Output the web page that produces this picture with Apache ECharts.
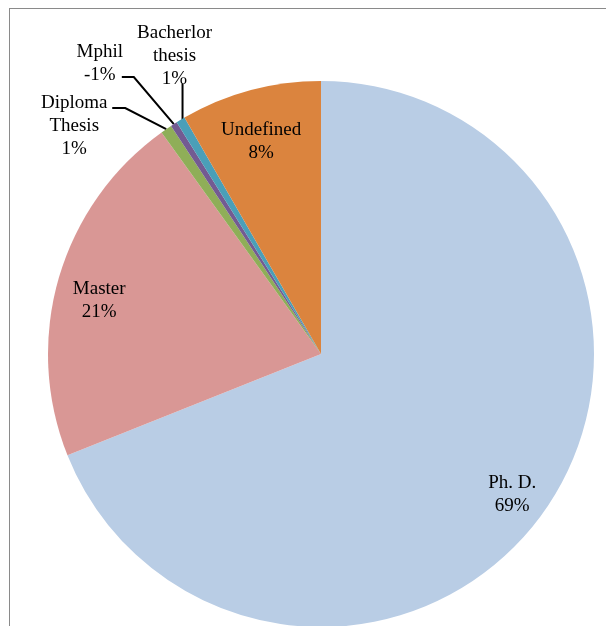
<!DOCTYPE html>
<html>
<head>
<meta charset="utf-8">
<script src="https://cdn.jsdelivr.net/npm/echarts@6/dist/echarts.min.js"></script>
<style>
  html, body { margin: 0; padding: 0; background: #fff; }
  #wrap { position: relative; width: 606px; height: 626px; overflow: hidden; }
  #chart { position: absolute; left: 0; top: 0; width: 606px; height: 626px; }
  #frame { position: absolute; left: 9px; top: 8px; width: 700px; height: 700px;
           border-top: 1.5px solid #8a8a8a; border-left: 1.5px solid #8a8a8a; pointer-events: none; }
</style>
</head>
<body>
<div id="wrap"><div id="frame"></div><div id="chart"></div></div>
<script>
var categories = ['Ph. D.', 'Master', 'Diploma\nThesis', 'Mphil', 'Bacherlor\nthesis', 'Undefined'];
var values = [68.9, 21.1, 0.67, 0.39, 0.53, 8.33];
var percentLabels = ['69%', '21%', '1%', '-1%', '1%', '8%'];
var colors = ['#B9CDE5', '#D99795', '#8FAE58', '#735B92', '#4A9FB8', '#DB843E'];
var insideLabel = [true, true, false, false, false, true];

// outside label placement relative to the slice edge point (leader elbow, leader end, label centre)
var outsideOffsets = {
  2: { elbow: [-41, -21], end: [-54, -21], text: [-92, -3] },
  3: { elbow: [-40, -47], end: [-52, -47], text: [-74, -61] },
  4: { elbow: [2, -18], end: [2, -36], text: [-6, -64], start: [2, 0] }
};

var CX = 321, CY = 354, R = 273;
var font = { fontFamily: 'Liberation Serif', fontSize: 19, lineHeight: 23, color: '#000' };

var chart = echarts.init(document.getElementById('chart'), null, { renderer: 'canvas' });

var mainData = categories.map(function (c, i) {
  return {
    name: c, value: values[i],
    itemStyle: { color: colors[i] },
    label: { show: !insideLabel[i] },
    labelLine: { show: !insideLabel[i] }
  };
});
var ringData = categories.map(function (c, i) {
  return {
    name: c, value: values[i],
    itemStyle: { color: 'rgba(0,0,0,0)' },
    label: { show: insideLabel[i] }
  };
});

function textFor(p) { return p.name + '\n' + percentLabels[p.dataIndex]; }

chart.setOption({
  animation: false,
  series: [
    {
      type: 'pie',
      center: [CX, CY],
      radius: [0, R],
      startAngle: 90,
      clockwise: true,
      avoidLabelOverlap: false,
      silent: true,
      itemStyle: { borderWidth: 0 },
      data: mainData,
      label: Object.assign({ position: 'outside', formatter: textFor, align: 'center', rotate: 0 }, font),
      labelLine: { show: true, length: 20, length2: 10, smooth: false, lineStyle: { color: '#000', width: 2 } },
      labelLayout: function (p) {
        var off = outsideOffsets[p.dataIndex];
        if (!off) return {};
        var p0 = p.labelLinePoints && p.labelLinePoints[0];
        if (!p0) return {};
        var s = off.start || [0, 0];
        return {
          x: p0[0] + off.text[0],
          y: p0[1] + off.text[1],
          align: 'center',
          verticalAlign: 'middle',
          labelLinePoints: [
            [p0[0] + s[0], p0[1] + s[1]],
            [p0[0] + off.elbow[0], p0[1] + off.elbow[1]],
            [p0[0] + off.end[0], p0[1] + off.end[1]]
          ]
        };
      }
    },
    {
      type: 'pie',
      center: [CX, CY],
      radius: [183, R],
      startAngle: 90,
      clockwise: true,
      avoidLabelOverlap: false,
      silent: true,
      data: ringData,
      label: Object.assign({ position: 'inside', formatter: textFor, align: 'center', rotate: 0, offset: [0, 11] }, font),
      labelLine: { show: false }
    }
  ]
});
</script>
</body>
</html>
